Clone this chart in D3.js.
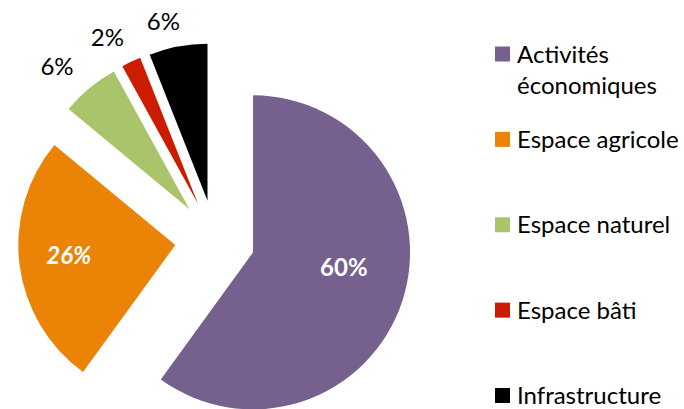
<!DOCTYPE html>
<html>
<head>
<meta charset="utf-8">
<script src="https://cdn.jsdelivr.net/npm/d3@7"></script>
<style>
  html, body { margin: 0; padding: 0; background: #fff; }
  svg { display: block; }
  text { font-family: Lato, "Open Sans", sans-serif; }
</style>
</head>
<body>
<svg id="chart" width="684" height="409"></svg>
<script>
const categories = ["Activités économiques", "Espace agricole", "Espace naturel", "Espace bâti", "Infrastructure"];
const legendLines = [["Activités", "économiques"], ["Espace agricole"], ["Espace naturel"], ["Espace bâti"], ["Infrastructure"]];
const values = [60, 26, 6, 2, 6];
const labels = ["60%", "26%", "6%", "2%", "6%"];
const colors = ["#76608E", "#EA8306", "#AAC46C", "#CC1C00", "#000000"];

const W = 684, H = 409;
const svg = d3.select("#chart");

const cx = 215, cy = 240, r = 157, explode = 40;
const pie = d3.pie().sort(null).value(d => d).startAngle(0).endAngle(2 * Math.PI);
const arcs = pie(values);
const arc = d3.arc().innerRadius(0).outerRadius(r);

const g = svg.append("g").attr("transform", `translate(${cx},${cy})`);

const slices = g.selectAll("g.slice").data(arcs).enter().append("g")
  .attr("class", "slice")
  .attr("transform", d => {
    const a = (d.startAngle + d.endAngle) / 2;
    return `translate(${Math.sin(a) * explode},${-Math.cos(a) * explode})`;
  });

slices.append("path")
  .attr("d", arc)
  .attr("fill", (d, i) => colors[i]);

// labels
slices.each(function (d, i) {
  const a = (d.startAngle + d.endAngle) / 2;
  const sel = d3.select(this);
  if (d.value >= 20) {
    const R = i === 0 ? 92 : 107;
    const aa = i === 0 ? a - 0.15 : a + 0.03;
    sel.append("text")
      .attr("x", Math.sin(aa) * R)
      .attr("y", -Math.cos(aa) * R)
      .attr("dy", "0.36em")
      .attr("text-anchor", "middle")
      .attr("fill", "#fff")
      .attr("font-weight", "bold")
      .attr("font-style", i === 1 ? "italic" : "normal")
      .attr("font-size", 24)
      .text(labels[i]);
  } else {
    const R = 174;
    sel.append("text")
      .attr("x", Math.sin(a) * R + (i === 4 ? 5 : i === 2 ? -5 : 0))
      .attr("y", -Math.cos(a) * R)
      .attr("text-anchor", "end")
      .attr("fill", "#000")
      .attr("font-size", 24)
      .text(labels[i]);
  }
});

// legend
const ly = d3.scaleLinear().domain([0, categories.length - 1]).range([62.5, 404]);
const leg = svg.append("g").selectAll("g").data(categories).enter().append("g")
  .attr("transform", (d, i) => `translate(0,${ly(i)})`);
leg.append("rect")
  .attr("x", 495).attr("y", -16).attr("width", 15).attr("height", 15)
  .attr("fill", (d, i) => colors[i]);
leg.append("text")
  .attr("x", 517).attr("y", 0)
  .attr("font-size", 24)
  .attr("fill", "#000")
  .each(function (d, i) {
    const t = d3.select(this);
    legendLines[i].forEach((ln, j) => {
      t.append("tspan").attr("x", 517).attr("dy", j === 0 ? 0 : 31).text(ln);
    });
  });
</script>
</body>
</html>
